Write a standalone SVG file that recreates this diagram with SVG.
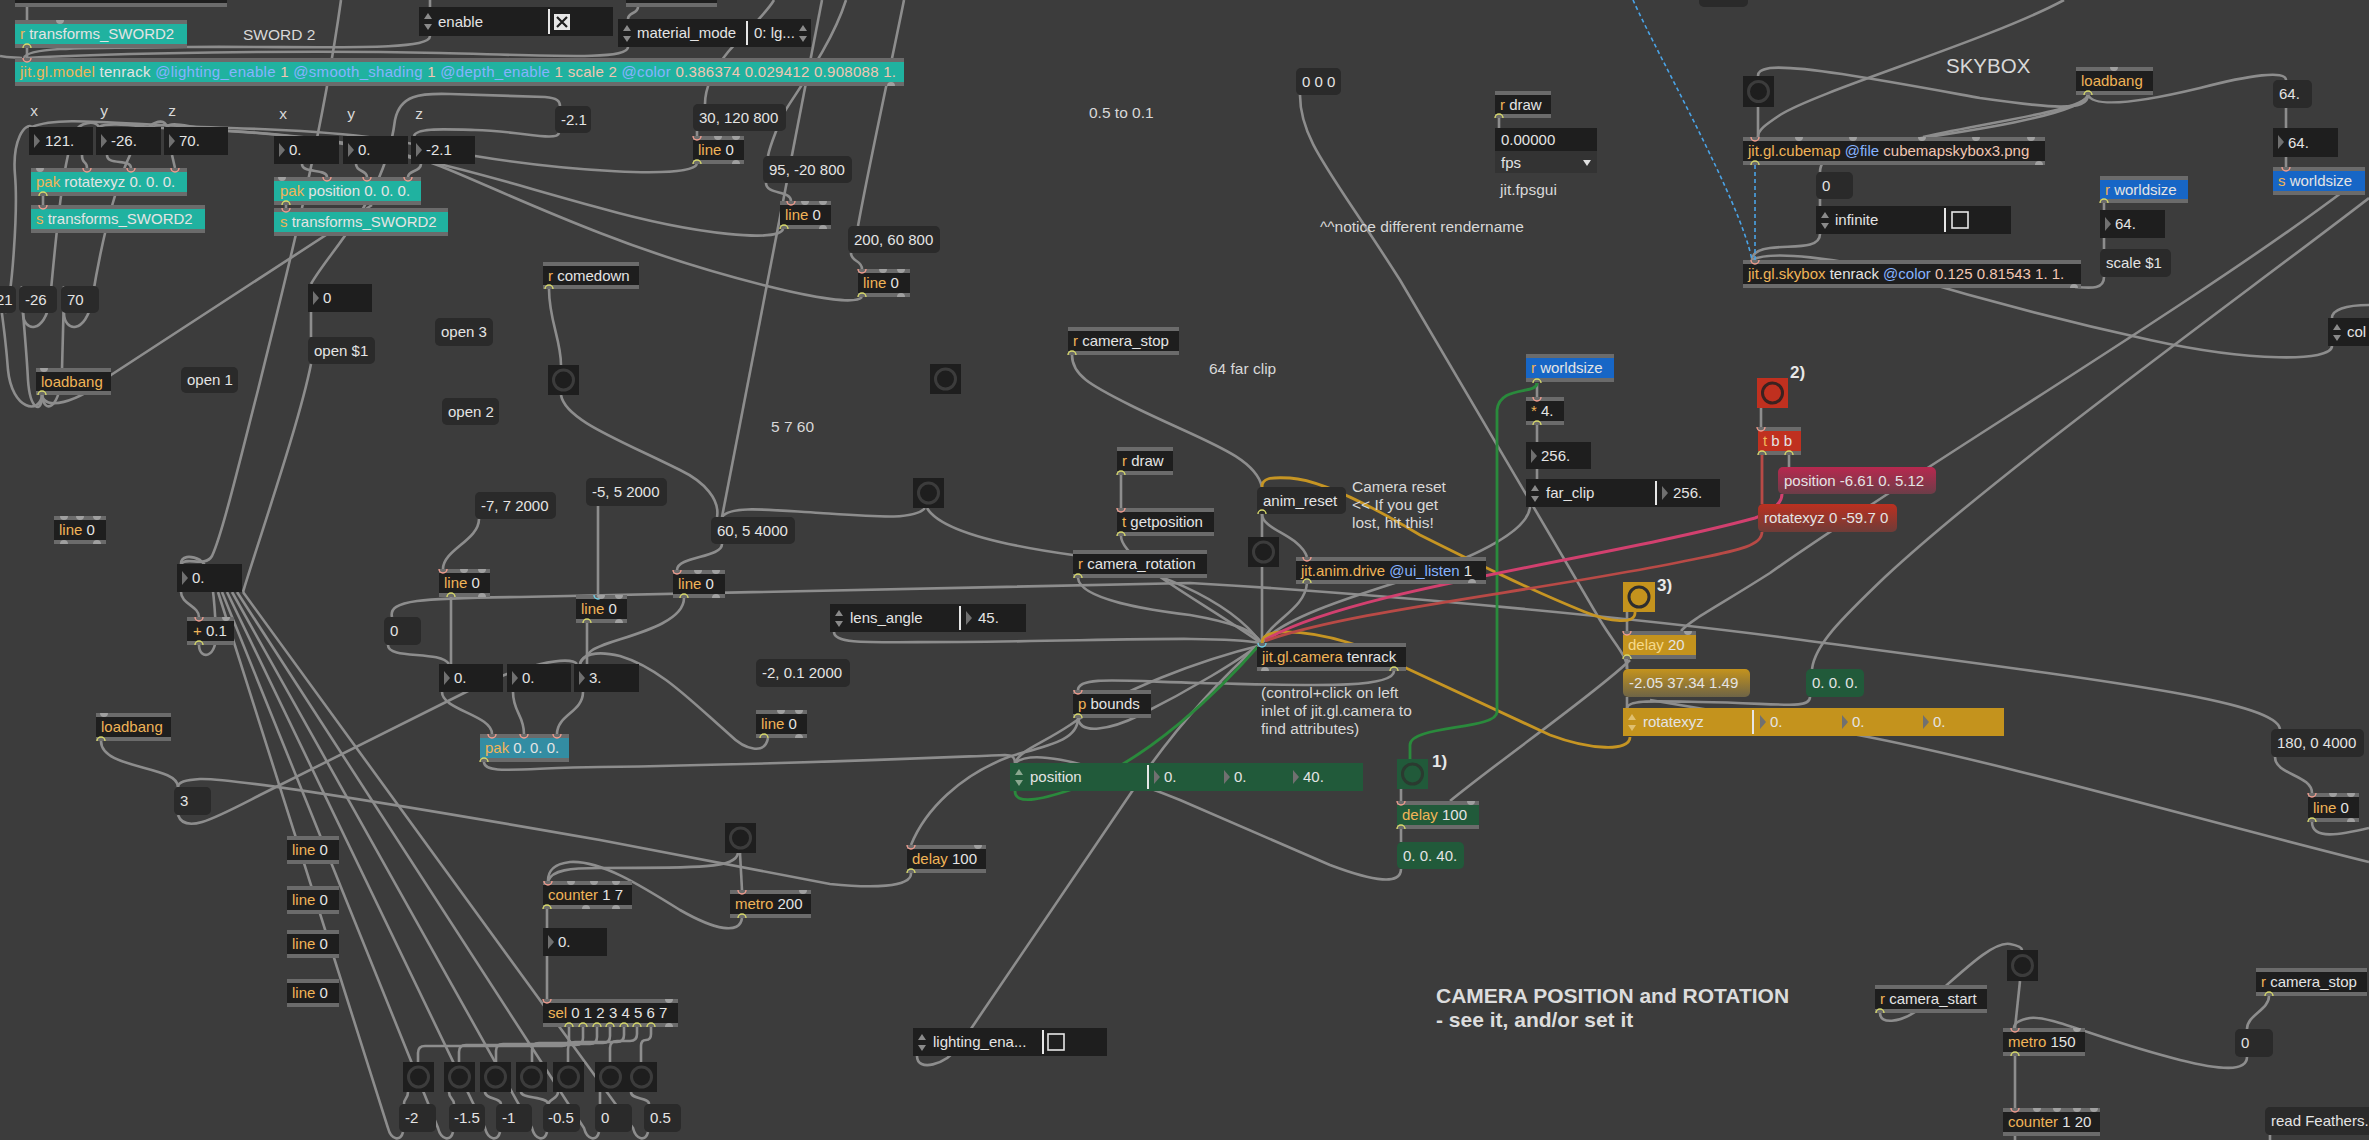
<svg xmlns="http://www.w3.org/2000/svg" width="2369" height="1140" viewBox="0 0 2369 1140">
<defs>
<style>
text{font-family:"Liberation Sans",Arial,sans-serif;font-size:15px;fill:#e4e4e4}
.st{fill:#6b6b6b}
.o{fill:#1e1e1e}
.tl{fill:#20b2a0}
.pk{fill:#338da3}
.bl{fill:#1766c6}
.gd{fill:#c4931d}
.gr{fill:#215a3a}
.rd{fill:#c0301f}
.m{fill:#2a2a2a}
.k{fill:#f0b458}
.a{fill:#86b3ff}
.v{fill:#f1c6b3}
.c{fill:#d8d8d8;font-size:15.5px}
.tri{fill:#707070}
.ar{fill:#8a8a8a}
.sep{stroke:#e6e6e6;stroke-width:2}
.cb{fill:none;stroke:#e6e6e6;stroke-width:1.6}
.ring{fill:none;stroke:#3c3c3c;stroke-width:3}
.cord{fill:none;stroke:#8d8d8d;stroke-width:2.6}
.gold{fill:none;stroke:#c69523;stroke-width:2.8}
.green{fill:none;stroke:#2a8a3c;stroke-width:2.8}
.pink{fill:none;stroke:#d2406f;stroke-width:3}
.redc{fill:none;stroke:#b84a46;stroke-width:2.8}
.dash{fill:none;stroke:#4aa3e6;stroke-width:1.6;stroke-dasharray:4 3}
.pi{fill:none;stroke:#f09c8e;stroke-width:1.4}
.po{fill:none;stroke:#d6d86a;stroke-width:1.4}
.pg{fill:#a0a0a0}
.lbl{font-size:17px;font-weight:bold;fill:#e8e8e8}
.big{font-size:21px;font-weight:bold;fill:#dcdcdc}
</style>
<linearGradient id="gGold" x1="0" y1="0" x2="0" y2="1"><stop offset="0" stop-color="#c4931d"/><stop offset="1" stop-color="#6e6446"/></linearGradient>
<linearGradient id="gCrim" x1="0" y1="0" x2="0" y2="1"><stop offset="0" stop-color="#b8284f"/><stop offset="1" stop-color="#6c3d48"/></linearGradient>
<linearGradient id="gRed" x1="0" y1="0" x2="0" y2="1"><stop offset="0" stop-color="#bb3020"/><stop offset="1" stop-color="#6f3c38"/></linearGradient>
</defs>
<rect x="0" y="0" width="2369" height="1140" fill="#3c3c3c"/>

<g id="connectors">
<path class="cord" d="M27,7 L27,58"/>
<path class="cord" d="M430,0 L430,7"/>
<path class="cord" d="M638,7 C638,14 628,12 628,19"/>
<path class="cord" d="M430,36 C430,52 320,46 187,47 C100,48 27,46 24,58"/>
<path class="cord" d="M628,47 C628,60 560,56 440,53 C300,50 110,53 26,58"/>
<path class="cord" d="M0,56 C10,58 18,57 22,58"/>
<path class="cord" d="M311,284 C330,250 385,200 395,120 C400,95 420,93 450,94 L545,97 C557,98 560,101 560,106"/>
<path class="cord" d="M559,133 C557,142 520,131 475,130 C440,129 416,128 414,136"/>
<path class="cord" d="M42,395 C44,410 75,405 111,375 L372,205"/>
<path class="cord" d="M42,395 C40,415 12,410 8,370 C5,330 0,300 -2,286"/>
<path class="cord" d="M42,395 C42,415 30,410 28,380 C26,340 21,300 22,286"/>
<path class="cord" d="M42,395 C44,415 60,410 62,370 C63,330 64,300 64,286"/>
<path class="cord" d="M5,313 C12,300 18,210 15,175 C12,140 25,122 32,127"/>
<path class="cord" d="M23,313 C23,332 45,335 50,300 C55,250 62,160 75,132 C80,122 95,120 99,127"/>
<path class="cord" d="M64,313 C64,332 86,335 92,300 C100,250 120,150 150,126 C158,120 165,120 167,127"/>
<path class="cord" d="M82,155 C82,165 87,160 87,168"/>
<path class="cord" d="M107,155 C107,166 131,158 131,168"/>
<path class="cord" d="M172,155 L175,168"/>
<path class="cord" d="M302,164 C302,174 327,168 327,177"/>
<path class="cord" d="M356,164 C356,172 367,170 367,177"/>
<path class="cord" d="M421,164 C421,172 408,170 408,177"/>
<path class="cord" d="M43,196 L43,205"/>
<path class="cord" d="M286,205 L286,208"/>
<path class="cord" d="M697,164 C690,180 560,170 475,156 C420,146 380,132 230,128 C120,125 60,115 32,127"/>
<path class="cord" d="M783,229 C780,242 700,236 600,208 C520,186 470,170 421,160 C380,150 300,132 200,130 C150,129 110,120 99,127"/>
<path class="cord" d="M862,297 C850,312 700,272 600,233 C530,206 480,182 440,166 C400,150 320,136 230,131 C190,129 172,120 167,127"/>
<path class="cord" d="M697,131 L697,136"/>
<path class="cord" d="M766,183 C766,195 791,190 791,201"/>
<path class="cord" d="M851,253 C851,262 862,260 862,269"/>
<path class="cord" d="M774,0 C766,14 740,38 728,52 C715,68 705,85 705,104"/>
<path class="cord" d="M846,0 C830,50 790,100 781,118 C775,135 770,145 768,156"/>
<path class="cord" d="M822,0 L722,517"/>
<path class="cord" d="M904,0 C890,70 870,160 858,226"/>
<path class="cord" d="M341,0 C320,150 280,300 258,390 C240,460 222,535 212,556 C205,568 186,556 181,564"/>
<path class="cord" d="M311,364 C300,420 262,530 243,592"/>
<path class="cord" d="M218,592 L388,1128 C391,1140 401,1142 403,1132"/>
<path class="cord" d="M222,592 L438,1128 C441,1140 451,1142 453,1132"/>
<path class="cord" d="M227,592 L485,1128 C488,1140 498,1142 500,1132"/>
<path class="cord" d="M232,592 L532,1128 C535,1140 545,1142 547,1132"/>
<path class="cord" d="M237,592 L584,1128 C587,1140 597,1142 599,1132"/>
<path class="cord" d="M243,592 L633,1128 C636,1140 646,1142 648,1132"/>
<path class="cord" d="M181,592 C181,604 199,606 199,617"/>
<path class="cord" d="M199,645 C199,660 218,660 216,630 C214,600 214,570 200,560 C190,555 181,556 181,564"/>
<path class="cord" d="M549,289 C549,320 561,340 561,365"/>
<path class="cord" d="M561,395 C565,420 620,440 680,470 C705,482 720,500 717,517"/>
<path class="cord" d="M925,508 C915,520 880,517 820,513 C770,510 730,505 722,517"/>
<path class="cord" d="M927,508 C940,530 1000,545 1073,555 C1150,565 1230,600 1261,643"/>
<path class="cord" d="M479,519 C479,540 443,550 443,569"/>
<path class="cord" d="M598,506 L598,595"/>
<path class="cord" d="M722,544 C722,558 677,556 677,570"/>
<path class="cord" d="M451,597 L451,664"/>
<path class="cord" d="M388,645 C388,660 440,650 449,664"/>
<path class="cord" d="M392,617 C388,600 420,598 520,597 L1190,583 C1400,595 1650,620 1780,637 C2100,680 2275,700 2280,729"/>
<path class="cord" d="M587,623 L587,664"/>
<path class="cord" d="M684,598 C684,630 600,640 590,652 C585,658 580,660 580,664"/>
<path class="cord" d="M768,738 C765,755 745,750 730,735 C690,700 660,668 620,656 C595,650 582,655 580,664"/>
<path class="cord" d="M442,692 C442,710 492,715 492,734"/>
<path class="cord" d="M513,692 C513,712 524,715 524,734"/>
<path class="cord" d="M583,692 C583,712 557,715 557,734"/>
<path class="cord" d="M484,762 C484,775 520,768 600,767 C800,764 950,757 1005,755 C1013,755 1015,758 1015,763"/>
<path class="cord" d="M178,815 C185,835 215,818 260,795 L470,690 C520,665 570,655 577,664"/>
<path class="cord" d="M101,741 C101,770 178,765 178,787"/>
<path class="cord" d="M911,873 C912,888 870,888 830,884 L600,840 C400,805 230,778 200,779 C185,780 178,782 178,787"/>
<path class="cord" d="M1078,718 C1078,740 1050,745 1011,756 C960,775 925,810 911,845"/>
<path class="cord" d="M1262,645 C1200,660 1120,690 1070,725 C1040,745 1020,750 1015,763"/>
<path class="cord" d="M917,1056 C917,1072 945,1066 960,1045 L1133,790 C1180,720 1230,670 1261,643"/>
<path class="cord" d="M742,918 C740,935 715,930 680,910 C640,885 600,860 570,862 C552,864 548,872 548,881"/>
<path class="cord" d="M740,853 L742,890"/>
<path class="cord" d="M738,853 C736,868 700,868 600,868 C570,868 552,870 548,881"/>
<path class="cord" d="M547,909 L547,928"/>
<path class="cord" d="M547,956 L547,999"/>
<path class="cord" d="M569,1027 V1039 Q569,1046 562,1046 H425 Q418,1046 418,1053 V1062"/>
<path class="cord" d="M583,1027 V1038 Q583,1045 576,1045 H466 Q459,1045 459,1052 V1062"/>
<path class="cord" d="M597,1027 V1037 Q597,1044 590,1044 H503 Q496,1044 496,1051 V1062"/>
<path class="cord" d="M610,1027 V1036 Q610,1043 603,1043 H539 Q532,1043 532,1050 V1062"/>
<path class="cord" d="M624,1027 V1035 Q624,1042 617,1042 H575 Q568,1042 568,1049 V1062"/>
<path class="cord" d="M637,1027 V1034 Q637,1041 630,1041 H617 Q610,1041 610,1048 V1062"/>
<path class="cord" d="M651,1027 V1034 Q651,1040 646,1040 Q641,1040 641,1046 V1062"/>
<path class="cord" d="M408,1092 C408,1099 404,1098 404,1104"/>
<path class="cord" d="M449,1092 C449,1099 454,1098 454,1104"/>
<path class="cord" d="M485,1092 C485,1099 501,1098 501,1104"/>
<path class="cord" d="M521,1092 C521,1099 548,1096 548,1104"/>
<path class="cord" d="M558,1092 C558,1099 550,1098 548,1104"/>
<path class="cord" d="M600,1092 L600,1104"/>
<path class="cord" d="M631,1092 C631,1100 649,1097 649,1104"/>
<path class="cord" d="M1072,355 C1072,375 1090,385 1130,405 C1200,440 1255,455 1262,487"/>
<path class="cord" d="M1121,475 L1121,508"/>
<path class="cord" d="M1121,536 C1121,560 1200,600 1261,643"/>
<path class="cord" d="M1078,578 C1080,600 1150,610 1190,615 C1230,622 1255,630 1261,643"/>
<path class="cord" d="M1262,514 L1262,643"/>
<path class="cord" d="M1262,514 C1262,530 1300,535 1307,557"/>
<path class="cord" d="M1307,583 C1305,610 1270,620 1262,643"/>
<path class="cord" d="M1530,507 C1528,530 1480,555 1420,575 C1340,600 1280,620 1262,643"/>
<path class="cord" d="M1300,95 C1300,140 1330,170 1400,280 L1600,620 C1615,645 1627,655 1627,669"/>
<path class="cord" d="M1537,383 L1537,397 M1537,425 L1537,442 M1537,469 L1537,479"/>
<path class="cord" d="M834,632 C834,645 870,642 960,642 C1100,641 1220,635 1261,643"/>
<path class="cord" d="M1394,671 C1394,690 1300,685 1200,683 C1120,681 1078,676 1078,690"/>
<path class="cord" d="M1078,718 C1080,735 1110,730 1140,715 C1190,690 1240,660 1261,643"/>
<path class="cord" d="M1627,612 L1627,631"/>
<path class="cord" d="M1627,659 L1627,669"/>
<path class="cord" d="M1630,660 C1600,690 1500,760 1450,801"/>
<path class="cord" d="M1627,697 L1627,708"/>
<path class="cord" d="M1810,697 C1810,710 1780,703 1700,702 C1650,701 1628,700 1627,708"/>
<path class="cord" d="M2345,190 C2200,300 1900,480 1770,573 C1720,605 1690,620 1681,631"/>
<path class="cord" d="M2369,198 C2250,290 2000,470 1885,577 C1840,620 1815,645 1812,669"/>
<path class="cord" d="M1650,700 L1858,735 C2000,762 2200,820 2369,862"/>
<path class="cord" d="M2275,757 C2275,775 2312,775 2312,793"/>
<path class="cord" d="M2312,822 C2312,840 2340,835 2369,828"/>
<path class="cord" d="M2332,346 C2332,362 2250,362 2150,340 C2050,318 1950,290 1900,275 C1840,258 1770,250 1752,260"/>
<path class="cord" d="M2369,305 C2345,305 2332,310 2332,318"/>
<path class="cord" d="M1820,234 C1820,250 1790,245 1770,248 C1755,250 1752,255 1752,260"/>
<path class="cord" d="M1820,199 L1820,206"/>
<path class="cord" d="M2088,95 C2088,112 2050,108 1980,98 C1880,80 1800,65 1770,68 C1760,70 1758,72 1758,76"/>
<path class="cord" d="M2088,95 C2095,110 2150,100 2200,88 C2250,75 2286,70 2286,80"/>
<path class="cord" d="M2088,95 C2085,110 2000,120 1923,137"/>
<path class="cord" d="M2088,95 C2080,120 1900,140 1840,150 C1825,155 1820,165 1820,172"/>
<path class="cord" d="M2064,0 C1990,40 1820,90 1780,115 C1765,125 1758,130 1758,137"/>
<path class="cord" d="M1758,107 L1758,137"/>
<path class="cord" d="M2286,108 L2286,128 M2286,157 L2286,167"/>
<path class="cord" d="M2104,203 L2104,210 M2104,238 L2104,249"/>
<path class="cord" d="M2104,277 C2104,290 2090,288 2075,287"/>
<path class="cord" d="M1499,118 L1499,128"/>
<path class="cord" d="M1761,408 L1761,427"/>
<path class="cord" d="M1789,455 L1789,467"/>
<path class="cord" d="M1401,789 L1401,801 M1401,829 L1401,842"/>
<path class="cord" d="M1401,869 C1401,885 1375,882 1330,865 L1180,800 C1160,792 1150,788 1140,785 C1080,760 1030,750 1015,763"/>
<path class="cord" d="M1880,1013 C1880,1025 1900,1022 1915,1012 C1950,985 1990,940 2010,944 C2020,946 2022,948 2022,950"/>
<path class="cord" d="M2020,981 L2015,1028"/>
<path class="cord" d="M2015,1056 L2015,1108"/>
<path class="cord" d="M2015,1136 L2015,1140"/>
<path class="cord" d="M2269,996 C2269,1010 2247,1015 2247,1029"/>
<path class="cord" d="M2247,1057 C2247,1072 2220,1070 2180,1060 C2100,1040 2050,1015 2030,1018 C2018,1020 2014,1024 2014,1028"/>
<path class="cord" d="M2270,1135 L2270,1140"/>
<path class="cord" d="M311,312 L311,337"/>
<path class="gold" d="M1630,737 C1630,752 1590,750 1550,735 L1406,668 C1380,650 1320,630 1280,632 C1268,633 1262,637 1262,643"/>
<path class="gold" d="M1635,612 C1636,625 1610,622 1585,612 C1530,590 1470,560 1420,535 C1370,505 1320,480 1290,478 C1270,477 1262,478 1262,487"/>
<path class="green" d="M1537,383 C1537,395 1500,385 1497,410 L1497,712 C1497,730 1410,725 1410,745 L1410,759"/>
<path class="green" d="M1015,791 C1015,805 1040,800 1070,790 C1150,760 1220,690 1261,643"/>
<path class="pink" d="M1782,494 C1782,505 1770,512 1755,518 C1600,560 1350,590 1265,640"/>
<path class="redc" d="M1762,532 C1762,545 1740,550 1700,558 C1550,590 1350,610 1265,641"/>
<path class="redc" d="M1762,455 L1762,504"/>
<path class="dash" d="M1755,165 L1755,260"/>
<path class="dash" d="M1633,0 C1660,60 1740,200 1752,260"/>
</g>

<g id="n_topbox1"><rect class="o" x="15" y="-10" width="212" height="13"/><rect class="st" x="15" y="3" width="212" height="4"/></g>
<g id="n_topbox2"><rect class="o" x="626" y="-10" width="91" height="13"/><rect class="st" x="626" y="3" width="91" height="4"/></g>
<g id="n_topmsg"><rect class="m" x="1699" y="-10" width="49" height="17" rx="5"/></g>

<g id="n_r_transforms"><rect class="st" x="15" y="20" width="172" height="28"/><rect class="tl" x="15" y="24" width="172" height="20"/><text x="20" y="39"><tspan class="k">r</tspan> transforms_SWORD2</text></g>
<g id="n_model"><rect class="st" x="15" y="58" width="889" height="28"/><rect class="tl" x="15" y="62" width="889" height="20"/><text x="20" y="77" textLength="876"><tspan class="k">jit.gl.model</tspan> tenrack <tspan class="a">@lighting_enable</tspan><tspan class="v"> 1 </tspan><tspan class="a">@smooth_shading</tspan><tspan class="v"> 1 </tspan><tspan class="a">@depth_enable</tspan><tspan class="v"> 1 scale 2 </tspan><tspan class="a">@color</tspan><tspan class="v"> 0.386374 0.029412 0.908088 1.</tspan></text></g>
<g id="n_pak_rot"><rect class="st" x="31" y="168" width="156" height="28"/><rect class="tl" x="31" y="172" width="156" height="20"/><text x="36" y="187"><tspan class="k">pak</tspan> rotatexyz 0. 0. 0.</text></g>
<g id="n_s_transforms1"><rect class="st" x="31" y="205" width="174" height="28"/><rect class="tl" x="31" y="209" width="174" height="20"/><text x="36" y="224"><tspan class="k">s</tspan> transforms_SWORD2</text></g>
<g id="n_pak_pos"><rect class="st" x="274" y="177" width="147" height="28"/><rect class="tl" x="274" y="181" width="147" height="20"/><text x="280" y="196"><tspan class="k">pak</tspan> position 0. 0. 0.</text></g>
<g id="n_s_transforms2"><rect class="st" x="274" y="208" width="174" height="28"/><rect class="tl" x="274" y="212" width="174" height="20"/><text x="280" y="227"><tspan class="k">s</tspan> transforms_SWORD2</text></g>

<g id="n_enable"><rect class="o" x="419" y="7" width="194" height="29"/><polygon class="ar" points="424,19 432,19 428,13"/><polygon class="ar" points="424,24 432,24 428,30"/><text x="438" y="27">enable</text><line class="sep" x1="549" y1="9" x2="549" y2="34"/><rect x="554" y="14" width="16" height="16" fill="#e6e6e6"/><path d="M557,17 L567,27 M567,17 L557,27" stroke="#1e1e1e" stroke-width="2.2"/></g>
<g id="n_material"><rect class="o" x="618" y="19" width="193" height="28"/><polygon class="ar" points="623,31 631,31 627,25"/><polygon class="ar" points="623,36 631,36 627,42"/><text x="637" y="38">material_mode</text><line class="sep" x1="747" y1="21" x2="747" y2="45"/><text x="754" y="38">0: lg...</text><polygon class="ar" points="799,31 807,31 803,25"/><polygon class="ar" points="799,36 807,36 803,42"/></g>

<g id="n_lbl_x1"><text class="c" x="34" y="116" text-anchor="middle">x</text></g>
<g id="n_lbl_y1"><text class="c" x="104" y="116" text-anchor="middle">y</text></g>
<g id="n_lbl_z1"><text class="c" x="172" y="116" text-anchor="middle">z</text></g>
<g id="n_lbl_x2"><text class="c" x="283" y="119" text-anchor="middle">x</text></g>
<g id="n_lbl_y2"><text class="c" x="351" y="119" text-anchor="middle">y</text></g>
<g id="n_lbl_z2"><text class="c" x="419" y="119" text-anchor="middle">z</text></g>
<g id="n_sword2"><text class="c" x="243" y="40">SWORD 2</text></g>

<g id="n_num121"><rect class="o" x="29" y="127" width="64" height="28"/><polygon class="tri" points="34,134 40,141 34,148"/><text x="45" y="146">121.</text></g>
<g id="n_num26"><rect class="o" x="96" y="127" width="65" height="28"/><polygon class="tri" points="101,134 107,141 101,148"/><text x="111" y="146">-26.</text></g>
<g id="n_num70"><rect class="o" x="164" y="127" width="64" height="28"/><polygon class="tri" points="169,134 175,141 169,148"/><text x="179" y="146">70.</text></g>
<g id="n_numpx"><rect class="o" x="274" y="136" width="65" height="28"/><polygon class="tri" points="279,143 285,150 279,157"/><text x="289" y="155">0.</text></g>
<g id="n_numpy"><rect class="o" x="343" y="136" width="65" height="28"/><polygon class="tri" points="348,143 354,150 348,157"/><text x="358" y="155">0.</text></g>
<g id="n_numpz"><rect class="o" x="411" y="136" width="64" height="28"/><polygon class="tri" points="416,143 422,150 416,157"/><text x="426" y="155">-2.1</text></g>
<g id="n_msg_m21"><rect class="m" x="555" y="106" width="36" height="27" rx="5"/><text x="561" y="125">-2.1</text></g>

<g id="n_msg21"><rect class="m" x="-20" y="286" width="36" height="27" rx="5"/><text x="-4" y="305">21</text></g>
<g id="n_msg26"><rect class="m" x="19" y="286" width="38" height="27" rx="5"/><text x="25" y="305">-26</text></g>
<g id="n_msg70"><rect class="m" x="61" y="286" width="38" height="27" rx="5"/><text x="67" y="305">70</text></g>
<g id="n_loadbang1"><rect class="st" x="36" y="368" width="75" height="27"/><rect class="o" x="36" y="372" width="75" height="19"/><text x="41" y="387"><tspan class="k">loadbang</tspan></text></g>
<g id="n_open1"><rect class="m" x="181" y="367" width="57" height="26" rx="5"/><text x="187" y="385">open 1</text></g>
<g id="n_num0a"><rect class="o" x="308" y="284" width="64" height="28"/><polygon class="tri" points="313,291 319,298 313,305"/><text x="323" y="303">0</text></g>
<g id="n_open_s1"><rect class="m" x="308" y="337" width="67" height="27" rx="5"/><text x="314" y="356">open $1</text></g>
<g id="n_open3"><rect class="m" x="435" y="318" width="58" height="28" rx="5"/><text x="441" y="337">open 3</text></g>
<g id="n_open2"><rect class="m" x="442" y="398" width="57" height="27" rx="5"/><text x="448" y="417">open 2</text></g>
<g id="n_r_comedown"><rect class="st" x="543" y="262" width="96" height="27"/><rect class="o" x="543" y="266" width="96" height="19"/><text x="548" y="281"><tspan class="k">r</tspan> comedown</text></g>

<g id="n_msg30"><rect class="m" x="693" y="104" width="93" height="27" rx="5"/><text x="699" y="123">30, 120 800</text></g>
<g id="n_line_a"><rect class="st" x="693" y="136" width="51" height="28"/><rect class="o" x="693" y="140" width="51" height="20"/><text x="698" y="155"><tspan class="k">line</tspan> 0</text></g>
<g id="n_msg95"><rect class="m" x="763" y="156" width="89" height="27" rx="5"/><text x="769" y="175">95, -20 800</text></g>
<g id="n_line_b"><rect class="st" x="780" y="201" width="51" height="28"/><rect class="o" x="780" y="205" width="51" height="20"/><text x="785" y="220"><tspan class="k">line</tspan> 0</text></g>
<g id="n_msg200"><rect class="m" x="848" y="226" width="92" height="27" rx="5"/><text x="854" y="245">200, 60 800</text></g>
<g id="n_line_c"><rect class="st" x="858" y="269" width="52" height="28"/><rect class="o" x="858" y="273" width="52" height="20"/><text x="863" y="288"><tspan class="k">line</tspan> 0</text></g>
<g id="n_c_05"><text class="c" x="1089" y="118">0.5 to 0.1</text></g>
<g id="n_r_camstop1"><rect class="st" x="1068" y="327" width="111" height="28"/><rect class="o" x="1068" y="331" width="111" height="20"/><text x="1073" y="346"><tspan class="k">r</tspan> camera_stop</text></g>

<g id="n_msg000"><rect class="m" x="1296" y="68" width="45" height="27" rx="5"/><text x="1302" y="87">0 0 0</text></g>
<g id="n_r_draw1"><rect class="st" x="1495" y="91" width="56" height="27"/><rect class="o" x="1495" y="95" width="56" height="19"/><text x="1500" y="110"><tspan class="k">r</tspan> draw</text></g>
<g id="n_fpsgui"><rect x="1495" y="128" width="102" height="23" fill="#1e1e1e"/><rect x="1495" y="151" width="102" height="22" fill="#333333"/><text x="1501" y="145">0.00000</text><text x="1501" y="168">fps</text><polygon points="1583,160 1591,160 1587,166" fill="#e0e0e0"/></g>
<g id="n_c_fps"><text class="c" x="1500" y="195">jit.fpsgui</text></g>
<g id="n_c_notice"><text class="c" x="1320" y="232">^^notice different rendername</text></g>
<g id="n_c_farclip"><text class="c" x="1209" y="374">64 far clip</text></g>

<g id="n_skybox_lbl"><text class="c" x="1946" y="73" style="font-size:20.5px">SKYBOX</text></g>
<g id="n_btn_sky"><rect class="o" x="1743" y="76" width="31" height="31"/><circle class="ring" cx="1758.5" cy="91.5" r="10"/></g>
<g id="n_loadbang_sky"><rect class="st" x="2076" y="67" width="77" height="28"/><rect class="o" x="2076" y="71" width="77" height="20"/><text x="2081" y="86"><tspan class="k">loadbang</tspan></text></g>
<g id="n_cubemap"><rect class="st" x="1743" y="137" width="302" height="28"/><rect class="o" x="1743" y="141" width="302" height="20"/><text x="1748" y="156"><tspan class="k">jit.gl.cubemap</tspan><tspan class="a"> @file</tspan><tspan class="v"> cubemapskybox3.png</tspan></text></g>
<g id="n_msg0_sky"><rect class="m" x="1816" y="172" width="37" height="27" rx="5"/><text x="1822" y="191">0</text></g>
<g id="n_infinite"><rect class="o" x="1816" y="206" width="195" height="28"/><polygon class="ar" points="1821,218 1829,218 1825,212"/><polygon class="ar" points="1821,223 1829,223 1825,229"/><text x="1835" y="225">infinite</text><line class="sep" x1="1945" y1="208" x2="1945" y2="232"/><rect class="cb" x="1952" y="212" width="16" height="16"/></g>
<g id="n_skybox"><rect class="st" x="1743" y="260" width="338" height="28"/><rect class="o" x="1743" y="264" width="338" height="20"/><text x="1748" y="279"><tspan class="k">jit.gl.skybox</tspan> tenrack <tspan class="a">@color</tspan><tspan class="v"> 0.125 0.81543 1. 1.</tspan></text></g>
<g id="n_r_world2"><rect class="st" x="2100" y="176" width="88" height="27"/><rect class="bl" x="2100" y="180" width="88" height="19"/><text x="2105" y="195"><tspan class="k">r</tspan> worldsize</text></g>
<g id="n_num64b"><rect class="o" x="2100" y="210" width="65" height="28"/><polygon class="tri" points="2105,217 2111,224 2105,231"/><text x="2115" y="229">64.</text></g>
<g id="n_scale"><rect class="m" x="2100" y="249" width="71" height="28" rx="5"/><text x="2106" y="268">scale $1</text></g>
<g id="n_msg64"><rect class="m" x="2273" y="80" width="39" height="28" rx="5"/><text x="2279" y="99">64.</text></g>
<g id="n_num64a"><rect class="o" x="2273" y="128" width="65" height="29"/><polygon class="tri" points="2278,135 2284,142 2278,149"/><text x="2288" y="148">64.</text></g>
<g id="n_s_world"><rect class="st" x="2273" y="167" width="92" height="28"/><rect class="bl" x="2273" y="171" width="92" height="20"/><text x="2278" y="186"><tspan class="k">s</tspan> worldsize</text></g>
<g id="n_col"><rect class="o" x="2328" y="318" width="60" height="28"/><polygon class="ar" points="2333,330 2341,330 2337,324"/><polygon class="ar" points="2333,335 2341,335 2337,341"/><text x="2347" y="337">col</text></g>

<g id="n_line_iso"><rect class="st" x="54" y="516" width="52" height="28"/><rect class="o" x="54" y="520" width="52" height="20"/><text x="59" y="535"><tspan class="k">line</tspan> 0</text></g>
<g id="n_num0b"><rect class="o" x="177" y="564" width="65" height="28"/><polygon class="tri" points="182,571 188,578 182,585"/><text x="192" y="583">0.</text></g>
<g id="n_plus"><rect class="st" x="187" y="617" width="47" height="28"/><rect class="o" x="187" y="621" width="47" height="20"/><text x="193" y="636"><tspan class="k">+</tspan> 0.1</text></g>
<g id="n_loadbang2"><rect class="st" x="96" y="713" width="75" height="28"/><rect class="o" x="96" y="717" width="75" height="20"/><text x="101" y="732"><tspan class="k">loadbang</tspan></text></g>
<g id="n_msg3"><rect class="m" x="174" y="787" width="37" height="28" rx="5"/><text x="180" y="806">3</text></g>
<g id="n_btn_come"><rect class="o" x="548" y="365" width="31" height="30"/><circle class="ring" cx="563.5" cy="380" r="10"/></g>
<g id="n_btn_top"><rect class="o" x="930" y="364" width="31" height="30"/><circle class="ring" cx="945.5" cy="379" r="10"/></g>
<g id="n_msg77"><rect class="m" x="475" y="492" width="81" height="27" rx="5"/><text x="481" y="511">-7, 7 2000</text></g>
<g id="n_msg55"><rect class="m" x="586" y="478" width="81" height="28" rx="5"/><text x="592" y="497">-5, 5 2000</text></g>
<g id="n_line_d"><rect class="st" x="439" y="569" width="51" height="28"/><rect class="o" x="439" y="573" width="51" height="20"/><text x="444" y="588"><tspan class="k">line</tspan> 0</text></g>
<g id="n_line_e"><rect class="st" x="576" y="595" width="51" height="28"/><rect class="o" x="576" y="599" width="51" height="20"/><text x="581" y="614"><tspan class="k">line</tspan> 0</text></g>
<g id="n_msg0c"><rect class="m" x="384" y="617" width="37" height="28" rx="5"/><text x="390" y="636">0</text></g>
<g id="n_num0c"><rect class="o" x="439" y="664" width="64" height="28"/><polygon class="tri" points="444,671 450,678 444,685"/><text x="454" y="683">0.</text></g>
<g id="n_num0d"><rect class="o" x="507" y="664" width="64" height="28"/><polygon class="tri" points="512,671 518,678 512,685"/><text x="522" y="683">0.</text></g>
<g id="n_num3"><rect class="o" x="574" y="664" width="65" height="28"/><polygon class="tri" points="579,671 585,678 579,685"/><text x="589" y="683">3.</text></g>
<g id="n_pak000"><rect class="st" x="480" y="734" width="89" height="28"/><rect class="pk" x="480" y="738" width="89" height="20"/><text x="485" y="753"><tspan class="k">pak</tspan> 0. 0. 0.</text></g>

<g id="n_c_5760"><text class="c" x="771" y="432">5 7 60</text></g>
<g id="n_btn_mid"><rect class="o" x="913" y="478" width="31" height="30"/><circle class="ring" cx="928.5" cy="493" r="10"/></g>
<g id="n_msg60"><rect class="m" x="711" y="517" width="84" height="27" rx="5"/><text x="717" y="536">60, 5 4000</text></g>
<g id="n_line_f"><rect class="st" x="673" y="570" width="52" height="28"/><rect class="o" x="673" y="574" width="52" height="20"/><text x="678" y="589"><tspan class="k">line</tspan> 0</text></g>
<g id="n_lens"><rect class="o" x="830" y="604" width="196" height="28"/><polygon class="ar" points="835,616 843,616 839,610"/><polygon class="ar" points="835,621 843,621 839,627"/><text x="850" y="623">lens_angle</text><line class="sep" x1="960" y1="606" x2="960" y2="630"/><polygon class="tri" points="966,611 972,618 966,625"/><text x="978" y="623">45.</text></g>
<g id="n_msg201"><rect class="m" x="756" y="659" width="94" height="28" rx="5"/><text x="762" y="678">-2, 0.1 2000</text></g>
<g id="n_line_g"><rect class="st" x="756" y="710" width="51" height="28"/><rect class="o" x="756" y="714" width="51" height="20"/><text x="761" y="729"><tspan class="k">line</tspan> 0</text></g>
<g id="n_r_draw2"><rect class="st" x="1117" y="447" width="56" height="28"/><rect class="o" x="1117" y="451" width="56" height="20"/><text x="1122" y="466"><tspan class="k">r</tspan> draw</text></g>
<g id="n_t_getpos"><rect class="st" x="1117" y="508" width="97" height="28"/><rect class="o" x="1117" y="512" width="97" height="20"/><text x="1122" y="527"><tspan class="k">t</tspan> getposition</text></g>
<g id="n_r_camrot"><rect class="st" x="1073" y="550" width="134" height="28"/><rect class="o" x="1073" y="554" width="134" height="20"/><text x="1078" y="569"><tspan class="k">r</tspan> camera_rotation</text></g>
<g id="n_pbounds"><rect class="st" x="1073" y="690" width="78" height="28"/><rect class="o" x="1073" y="694" width="78" height="20"/><text x="1078" y="709"><tspan class="k">p</tspan> bounds</text></g>

<g id="n_anim_reset"><rect class="m" x="1257" y="487" width="89" height="27" rx="5"/><text x="1263" y="506">anim_reset</text></g>
<g id="n_c_reset"><text class="c" x="1352" y="492">Camera reset</text><text class="c" x="1352" y="510">&lt;&lt; If you get</text><text class="c" x="1352" y="528">lost, hit this!</text></g>
<g id="n_btn_anim"><rect class="o" x="1248" y="537" width="31" height="30"/><circle class="ring" cx="1263.5" cy="552" r="10"/></g>
<g id="n_animdrive"><rect class="st" x="1296" y="557" width="190" height="27"/><rect class="o" x="1296" y="561" width="190" height="19"/><text x="1301" y="576"><tspan class="k">jit.anim.drive</tspan><tspan class="a"> @ui_listen</tspan> 1</text></g>
<g id="n_camera"><rect class="st" x="1257" y="643" width="149" height="28"/><rect class="o" x="1257" y="647" width="149" height="20"/><text x="1262" y="662"><tspan class="k">jit.gl.camera</tspan> tenrack</text></g>
<g id="n_c_ctrl"><text class="c" x="1261" y="698">(control+click on left</text><text class="c" x="1261" y="716">inlet of jit.gl.camera to</text><text class="c" x="1261" y="734">find attributes)</text></g>

<g id="n_r_world1"><rect class="st" x="1526" y="354" width="88" height="28"/><rect class="bl" x="1526" y="358" width="88" height="20"/><text x="1531" y="373"><tspan class="k">r</tspan> worldsize</text></g>
<g id="n_mul4"><rect class="st" x="1526" y="397" width="38" height="28"/><rect class="o" x="1526" y="401" width="38" height="20"/><text x="1531" y="416"><tspan class="k">*</tspan> 4.</text></g>
<g id="n_num256"><rect class="o" x="1526" y="442" width="65" height="27"/><polygon class="tri" points="1531,449 1537,456 1531,463"/><text x="1541" y="461">256.</text></g>
<g id="n_farclip"><rect class="o" x="1526" y="479" width="194" height="28"/><polygon class="ar" points="1531,491 1539,491 1535,485"/><polygon class="ar" points="1531,496 1539,496 1535,502"/><text x="1546" y="498">far_clip</text><line class="sep" x1="1656" y1="481" x2="1656" y2="505"/><polygon class="tri" points="1662,486 1668,493 1662,500"/><text x="1673" y="498">256.</text></g>

<g id="n_btn3"><rect class="gd" x="1623" y="582" width="32" height="30"/><circle fill="none" stroke="#2e2e2e" stroke-width="3" cx="1639" cy="597" r="10"/><text class="lbl" x="1657" y="591">3)</text></g>
<g id="n_delay20"><rect class="st" x="1623" y="631" width="73" height="28"/><rect class="gd" x="1623" y="635" width="73" height="20"/><text x="1628" y="650"><tspan class="k" style="fill:#f6d98a">delay</tspan> 20</text></g>
<g id="n_msg205"><rect x="1623" y="669" width="127" height="28" rx="5" fill="url(#gGold)"/><text x="1629" y="688">-2.05 37.34 1.49</text></g>
<g id="n_rotxyz"><rect class="gd" x="1623" y="708" width="381" height="28"/><polygon points="1628,720 1636,720 1632,714" fill="#e0c070"/><polygon points="1628,725 1636,725 1632,731" fill="#e0c070"/><text x="1643" y="727">rotatexyz</text><line class="sep" x1="1753" y1="710" x2="1753" y2="734"/><polygon class="tri" points="1760,715 1766,722 1760,729"/><text x="1770" y="727">0.</text><polygon class="tri" points="1842,715 1848,722 1842,729"/><text x="1852" y="727">0.</text><polygon class="tri" points="1923,715 1929,722 1923,729"/><text x="1933" y="727">0.</text></g>

<g id="n_btn2"><rect class="rd" x="1757" y="378" width="31" height="30"/><circle fill="none" stroke="#3a2220" stroke-width="3" cx="1772.5" cy="393" r="10"/><text class="lbl" x="1790" y="378">2)</text></g>
<g id="n_tbb"><rect class="st" x="1758" y="427" width="43" height="28"/><rect class="rd" x="1758" y="431" width="43" height="20"/><text x="1763" y="446"><tspan class="k">t</tspan> b b</text></g>
<g id="n_msgpos"><rect x="1778" y="467" width="158" height="27" rx="5" fill="url(#gCrim)"/><text x="1784" y="486">position -6.61 0. 5.12</text></g>
<g id="n_msgrot"><rect x="1758" y="504" width="139" height="28" rx="5" fill="url(#gRed)"/><text x="1764" y="523">rotatexyz 0 -59.7 0</text></g>
<g id="n_msg000g"><rect class="gr" x="1806" y="669" width="58" height="28" rx="5"/><text x="1812" y="688">0. 0. 0.</text></g>
<g id="n_msg180"><rect class="m" x="2271" y="729" width="93" height="28" rx="5"/><text x="2277" y="748">180, 0 4000</text></g>
<g id="n_line_r"><rect class="st" x="2308" y="793" width="51" height="29"/><rect class="o" x="2308" y="797" width="51" height="21"/><text x="2313" y="813"><tspan class="k">line</tspan> 0</text></g>

<g id="n_posattr"><rect class="gr" x="1010" y="763" width="353" height="28"/><polygon points="1015,775 1023,775 1019,769" fill="#8aa890"/><polygon points="1015,780 1023,780 1019,786" fill="#8aa890"/><text x="1030" y="782">position</text><line class="sep" x1="1148" y1="765" x2="1148" y2="789"/><polygon class="tri" points="1154,770 1160,777 1154,784"/><text x="1164" y="782">0.</text><polygon class="tri" points="1224,770 1230,777 1224,784"/><text x="1234" y="782">0.</text><polygon class="tri" points="1293,770 1299,777 1293,784"/><text x="1303" y="782">40.</text></g>
<g id="n_btn1"><rect class="gr" x="1397" y="759" width="31" height="30"/><circle fill="none" stroke="#2b3a30" stroke-width="3" cx="1412.5" cy="774" r="10"/><text class="lbl" x="1432" y="767">1)</text></g>
<g id="n_delay100g"><rect class="st" x="1397" y="801" width="82" height="28"/><rect class="gr" x="1397" y="805" width="82" height="20"/><text x="1402" y="820"><tspan class="k">delay</tspan> 100</text></g>
<g id="n_msg0040"><rect class="gr" x="1397" y="842" width="67" height="27" rx="5"/><text x="1403" y="861">0. 0. 40.</text></g>
<g id="n_c_title"><text class="big" x="1436" y="1003">CAMERA POSITION and ROTATION</text><text class="big" x="1436" y="1027">- see it, and/or set it</text></g>

<g id="n_line_s1"><rect class="st" x="287" y="836" width="52" height="28"/><rect class="o" x="287" y="840" width="52" height="20"/><text x="292" y="855"><tspan class="k">line</tspan> 0</text></g>
<g id="n_line_s2"><rect class="st" x="287" y="886" width="52" height="28"/><rect class="o" x="287" y="890" width="52" height="20"/><text x="292" y="905"><tspan class="k">line</tspan> 0</text></g>
<g id="n_line_s3"><rect class="st" x="287" y="930" width="52" height="28"/><rect class="o" x="287" y="934" width="52" height="20"/><text x="292" y="949"><tspan class="k">line</tspan> 0</text></g>
<g id="n_line_s4"><rect class="st" x="287" y="979" width="52" height="28"/><rect class="o" x="287" y="983" width="52" height="20"/><text x="292" y="998"><tspan class="k">line</tspan> 0</text></g>
<g id="n_btn_metro"><rect class="o" x="725" y="823" width="31" height="30"/><circle class="ring" cx="740.5" cy="838" r="10"/></g>
<g id="n_counter17"><rect class="st" x="543" y="881" width="89" height="28"/><rect class="o" x="543" y="885" width="89" height="20"/><text x="548" y="900"><tspan class="k">counter</tspan> 1 7</text></g>
<g id="n_num0e"><rect class="o" x="543" y="928" width="64" height="28"/><polygon class="tri" points="548,935 554,942 548,949"/><text x="558" y="947">0.</text></g>
<g id="n_sel"><rect class="st" x="543" y="999" width="135" height="28"/><rect class="o" x="543" y="1003" width="135" height="20"/><text x="548" y="1018"><tspan class="k">sel</tspan> 0 1 2 3 4 5 6 7</text></g>
<g id="n_metro200"><rect class="st" x="730" y="890" width="81" height="28"/><rect class="o" x="730" y="894" width="81" height="20"/><text x="735" y="909"><tspan class="k">metro</tspan> 200</text></g>
<g id="n_delay100"><rect class="st" x="907" y="845" width="79" height="28"/><rect class="o" x="907" y="849" width="79" height="20"/><text x="912" y="864"><tspan class="k">delay</tspan> 100</text></g>
<g id="n_lighting"><rect class="o" x="913" y="1028" width="194" height="28"/><polygon class="ar" points="918,1040 926,1040 922,1034"/><polygon class="ar" points="918,1045 926,1045 922,1051"/><text x="933" y="1047">lighting_ena...</text><line class="sep" x1="1043" y1="1030" x2="1043" y2="1054"/><rect class="cb" x="1048" y="1034" width="16" height="16"/></g>

<g id="n_bbtn1"><rect class="o" x="403" y="1062" width="31" height="30"/><circle class="ring" cx="418.5" cy="1077" r="10"/></g>
<g id="n_bbtn2"><rect class="o" x="444" y="1062" width="31" height="30"/><circle class="ring" cx="459.5" cy="1077" r="10"/></g>
<g id="n_bbtn3"><rect class="o" x="480" y="1062" width="31" height="30"/><circle class="ring" cx="495.5" cy="1077" r="10"/></g>
<g id="n_bbtn4"><rect class="o" x="516" y="1062" width="31" height="30"/><circle class="ring" cx="531.5" cy="1077" r="10"/></g>
<g id="n_bbtn5"><rect class="o" x="553" y="1062" width="31" height="30"/><circle class="ring" cx="568.5" cy="1077" r="10"/></g>
<g id="n_bbtn6"><rect class="o" x="595" y="1062" width="31" height="30"/><circle class="ring" cx="610.5" cy="1077" r="10"/></g>
<g id="n_bbtn7"><rect class="o" x="626" y="1062" width="31" height="30"/><circle class="ring" cx="641.5" cy="1077" r="10"/></g>
<g id="n_bm1"><rect class="m" x="399" y="1104" width="37" height="28" rx="5"/><text x="405" y="1123">-2</text></g>
<g id="n_bm2"><rect class="m" x="449" y="1104" width="36" height="28" rx="5"/><text x="454" y="1123">-1.5</text></g>
<g id="n_bm3"><rect class="m" x="496" y="1104" width="36" height="28" rx="5"/><text x="502" y="1123">-1</text></g>
<g id="n_bm4"><rect class="m" x="543" y="1104" width="37" height="28" rx="5"/><text x="548" y="1123">-0.5</text></g>
<g id="n_bm5"><rect class="m" x="595" y="1104" width="37" height="28" rx="5"/><text x="601" y="1123">0</text></g>
<g id="n_bm6"><rect class="m" x="644" y="1104" width="37" height="28" rx="5"/><text x="650" y="1123">0.5</text></g>

<g id="n_r_camstart"><rect class="st" x="1875" y="985" width="112" height="28"/><rect class="o" x="1875" y="989" width="112" height="20"/><text x="1880" y="1004"><tspan class="k">r</tspan> camera_start</text></g>
<g id="n_btn_start"><rect class="o" x="2007" y="950" width="31" height="31"/><circle class="ring" cx="2022.5" cy="965.5" r="10"/></g>
<g id="n_metro150"><rect class="st" x="2003" y="1028" width="82" height="28"/><rect class="o" x="2003" y="1032" width="82" height="20"/><text x="2008" y="1047"><tspan class="k">metro</tspan> 150</text></g>
<g id="n_counter120"><rect class="st" x="2003" y="1108" width="97" height="28"/><rect class="o" x="2003" y="1112" width="97" height="20"/><text x="2008" y="1127"><tspan class="k">counter</tspan> 1 20</text></g>
<g id="n_r_camstop2"><rect class="st" x="2256" y="968" width="111" height="28"/><rect class="o" x="2256" y="972" width="111" height="20"/><text x="2261" y="987"><tspan class="k">r</tspan> camera_stop</text></g>
<g id="n_msg0f"><rect class="m" x="2235" y="1029" width="38" height="28" rx="5"/><text x="2241" y="1048">0</text></g>
<g id="n_read"><rect class="m" x="2265" y="1107" width="120" height="28" rx="5"/><text x="2271" y="1126">read Feathers.</text></g>

<g id="ports">
<path class="pi" d="M23,58 a4,4 0 0 0 8,0 M83,168 a4,4 0 0 0 8,0 M127,168 a4,4 0 0 0 8,0 M171,168 a4,4 0 0 0 8,0 M39,205 a4,4 0 0 0 8,0 M323,177 a4,4 0 0 0 8,0 M363,177 a4,4 0 0 0 8,0 M404,177 a4,4 0 0 0 8,0 M282,208 a4,4 0 0 0 8,0 M693,136 a4,4 0 0 0 8,0 M787,201 a4,4 0 0 0 8,0 M858,269 a4,4 0 0 0 8,0 M439,569 a4,4 0 0 0 8,0 M673,570 a4,4 0 0 0 8,0 M488,734 a4,4 0 0 0 8,0 M520,734 a4,4 0 0 0 8,0 M553,734 a4,4 0 0 0 8,0 M195,617 a4,4 0 0 0 8,0 M1533,397 a4,4 0 0 0 8,0 M1303,557 a4,4 0 0 0 8,0 M1074,690 a4,4 0 0 0 8,0 M1623,631 a4,4 0 0 0 8,0 M1757,427 a4,4 0 0 0 8,0 M1397,801 a4,4 0 0 0 8,0 M738,890 a4,4 0 0 0 8,0 M544,881 a4,4 0 0 0 8,0 M543,999 a4,4 0 0 0 8,0 M907,845 a4,4 0 0 0 8,0 M2308,793 a4,4 0 0 0 8,0 M2011,1028 a4,4 0 0 0 8,0 M2011,1108 a4,4 0 0 0 8,0 M1751,137 a4,4 0 0 0 8,0 M1751,260 a4,4 0 0 0 8,0 M1117,508 a4,4 0 0 0 8,0 M2282,167 a4,4 0 0 0 8,0"/>
<path d="M1258,643 a4,4 0 0 0 8,0 M594,595 a4,4 0 0 0 8,0" fill="none" stroke="#6fd0e8" stroke-width="1.4"/>
<path class="po" d="M23,48 a4,4 0 0 1 8,0 M39,196 a4,4 0 0 1 8,0 M282,205 a4,4 0 0 1 8,0 M38,395 a4,4 0 0 1 8,0 M693,164 a4,4 0 0 1 8,0 M780,229 a4,4 0 0 1 8,0 M858,297 a4,4 0 0 1 8,0 M447,597 a4,4 0 0 1 8,0 M583,623 a4,4 0 0 1 8,0 M680,598 a4,4 0 0 1 8,0 M760,738 a4,4 0 0 1 8,0 M480,762 a4,4 0 0 1 8,0 M97,741 a4,4 0 0 1 8,0 M1074,578 a4,4 0 0 1 8,0 M1117,475 a4,4 0 0 1 8,0 M1117,536 a4,4 0 0 1 8,0 M1303,583 a4,4 0 0 1 8,0 M1390,671 a4,4 0 0 1 8,0 M1074,718 a4,4 0 0 1 8,0 M1533,383 a4,4 0 0 1 8,0 M1533,425 a4,4 0 0 1 8,0 M1623,659 a4,4 0 0 1 8,0 M1758,455 a4,4 0 0 1 8,0 M1785,455 a4,4 0 0 1 8,0 M1397,829 a4,4 0 0 1 8,0 M907,873 a4,4 0 0 1 8,0 M738,918 a4,4 0 0 1 8,0 M543,909 a4,4 0 0 1 8,0 M1495,118 a4,4 0 0 1 8,0 M2084,95 a4,4 0 0 1 8,0 M2100,203 a4,4 0 0 1 8,0 M1876,1013 a4,4 0 0 1 8,0 M2011,1056 a4,4 0 0 1 8,0 M2265,996 a4,4 0 0 1 8,0 M195,645 a4,4 0 0 1 8,0 M545,289 a4,4 0 0 1 8,0 M1068,355 a4,4 0 0 1 8,0 M565,1027 a4,4 0 0 1 8,0 M579,1027 a4,4 0 0 1 8,0 M593,1027 a4,4 0 0 1 8,0 M606,1027 a4,4 0 0 1 8,0 M620,1027 a4,4 0 0 1 8,0 M633,1027 a4,4 0 0 1 8,0 M647,1027 a4,4 0 0 1 8,0 M2308,822 a4,4 0 0 1 8,0 M1751,165 a4,4 0 0 1 8,0 M1258,514 a4,4 0 0 1 8,0"/>
<path class="pg" d="M714,136 a4,4 0 0 0 8,0 Z M732,136 a4,4 0 0 0 8,0 Z M732,164 a4,4 0 0 1 8,0 Z M801,201 a4,4 0 0 0 8,0 Z M819,201 a4,4 0 0 0 8,0 Z M819,229 a4,4 0 0 1 8,0 Z M879,269 a4,4 0 0 0 8,0 Z M897,269 a4,4 0 0 0 8,0 Z M897,297 a4,4 0 0 1 8,0 Z M60,516 a4,4 0 0 0 8,0 Z M76,516 a4,4 0 0 0 8,0 Z M93,516 a4,4 0 0 0 8,0 Z M60,544 a4,4 0 0 1 8,0 Z M93,544 a4,4 0 0 1 8,0 Z M460,569 a4,4 0 0 0 8,0 Z M478,569 a4,4 0 0 0 8,0 Z M478,597 a4,4 0 0 1 8,0 Z M597,595 a4,4 0 0 0 8,0 Z M615,595 a4,4 0 0 0 8,0 Z M615,623 a4,4 0 0 1 8,0 Z M694,570 a4,4 0 0 0 8,0 Z M712,570 a4,4 0 0 0 8,0 Z M712,598 a4,4 0 0 1 8,0 Z M777,710 a4,4 0 0 0 8,0 Z M795,710 a4,4 0 0 0 8,0 Z M795,738 a4,4 0 0 1 8,0 Z M2329,793 a4,4 0 0 0 8,0 Z M2347,793 a4,4 0 0 0 8,0 Z M2347,822 a4,4 0 0 1 8,0 Z M222,617 a4,4 0 0 0 8,0 Z M1684,631 a4,4 0 0 0 8,0 Z M1467,801 a4,4 0 0 0 8,0 Z M974,845 a4,4 0 0 0 8,0 Z M799,890 a4,4 0 0 0 8,0 Z M2073,1028 a4,4 0 0 0 8,0 Z M2033,1108 a4,4 0 0 0 8,0 Z M2053,1108 a4,4 0 0 0 8,0 Z M2073,1108 a4,4 0 0 0 8,0 Z M2090,1108 a4,4 0 0 0 8,0 Z M567,881 a4,4 0 0 0 8,0 Z M590,881 a4,4 0 0 0 8,0 Z M612,881 a4,4 0 0 0 8,0 Z M582,909 a4,4 0 0 1 8,0 Z M612,909 a4,4 0 0 1 8,0 Z M665,999 a4,4 0 0 0 8,0 Z M665,1027 a4,4 0 0 1 8,0 Z M887,86 a4,4 0 0 1 8,0 Z M1468,583 a4,4 0 0 1 8,0 Z M1261,671 a4,4 0 0 1 8,0 Z M2035,165 a4,4 0 0 1 8,0 Z M2070,288 a4,4 0 0 1 8,0 Z M1795,137 a4,4 0 0 0 8,0 Z M1849,137 a4,4 0 0 0 8,0 Z M1918,137 a4,4 0 0 0 8,0 Z M1972,137 a4,4 0 0 0 8,0 Z M2027,137 a4,4 0 0 0 8,0 Z M2110,67 a4,4 0 0 0 8,0 Z M40,368 a4,4 0 0 0 8,0 Z M100,713 a4,4 0 0 0 8,0 Z M56,20 a4,4 0 0 0 8,0 Z M36,168 a4,4 0 0 0 8,0 Z M278,177 a4,4 0 0 0 8,0 Z"/>
</g>
</svg>
